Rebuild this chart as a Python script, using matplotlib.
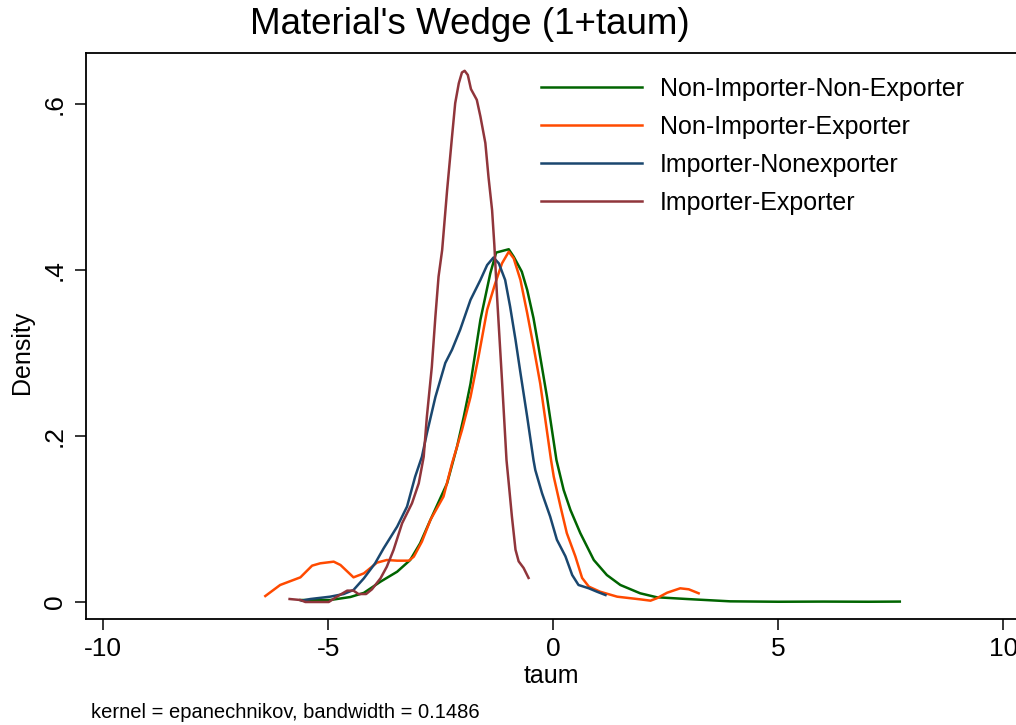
import matplotlib
matplotlib.use("Agg")
import matplotlib.pyplot as plt

# ------------------------------
# DATA
# ------------------------------
nine_x = [-5.62, -4.96, -4.51, -4.21, -3.84, -3.47, -3.18, -2.96, -2.73, -2.36, -2.14,
          -1.99, -1.84, -1.62, -1.51, -1.40, -1.27, -0.99, -0.88, -0.70, -0.58, -0.44,
          -0.33, -0.14, 0.07, 0.23, 0.38, 0.60, 0.90, 1.19, 1.49, 1.93, 2.30, 2.97,
          3.93, 5.0, 6.0, 7.0, 7.7]
nine_y = [0.0024, 0.0024, 0.006, 0.011, 0.0245, 0.0365, 0.0506, 0.0707, 0.099, 0.143, 0.187,
          0.223, 0.263, 0.340, 0.368, 0.396, 0.421, 0.425, 0.416, 0.398, 0.376, 0.342,
          0.308, 0.247, 0.171, 0.135, 0.111, 0.083, 0.0506, 0.0325, 0.0205, 0.0105, 0.0057, 0.0036,
          0.0008, 0.0003, 0.0005, 0.0003, 0.0005]

nie_x = [-6.4, -6.07, -5.62, -5.36, -5.18, -4.88, -4.73, -4.44, -4.21, -3.92, -3.70, -3.47,
         -3.21, -3.10, -2.92, -2.73, -2.44, -2.25, -2.03, -1.84, -1.66, -1.47, -1.29, -1.14,
         -0.99, -0.88, -0.73, -0.58, -0.44, -0.29, -0.05, 0.01, 0.16, 0.30, 0.49, 0.64, 0.79,
         1.04, 1.42, 1.93, 2.16, 2.30, 2.53, 2.82, 3.01, 3.23]
nie_y = [0.0072, 0.0205, 0.0297, 0.0438, 0.0466, 0.0486, 0.0446, 0.0297, 0.0345, 0.0474, 0.0506, 0.0498,
         0.0498, 0.0546, 0.0727, 0.099, 0.127, 0.167, 0.207, 0.247, 0.296, 0.352, 0.384, 0.408,
         0.422, 0.414, 0.388, 0.348, 0.308, 0.263, 0.171, 0.151, 0.115, 0.083, 0.055, 0.029, 0.0185,
         0.0124, 0.0064, 0.0032, 0.0016, 0.0045, 0.0112, 0.0165, 0.0153, 0.0105]

ine_x = [-5.59, -5.40, -4.96, -4.66, -4.44, -4.21, -3.96, -3.77, -3.47, -3.25, -3.07, -2.92,
         -2.81, -2.62, -2.40, -2.25, -2.07, -1.84, -1.62, -1.47, -1.33, -1.21, -1.07, -0.96,
         -0.84, -0.73, -0.58, -0.44, -0.40, -0.25, -0.07, 0.08, 0.27, 0.42, 0.56, 0.79, 0.97, 1.16]
ine_y = [0.0016, 0.0036, 0.0064, 0.0096, 0.0145, 0.0285, 0.0466, 0.0647, 0.0908, 0.115, 0.151, 0.175,
         0.203, 0.247, 0.288, 0.304, 0.328, 0.364, 0.388, 0.406, 0.415, 0.408, 0.388, 0.356,
         0.316, 0.276, 0.223, 0.171, 0.159, 0.131, 0.103, 0.075, 0.055, 0.0325, 0.0205, 0.0165, 0.0124, 0.0084]

ie_x = [-5.86, -5.62, -5.51, -4.99, -4.81, -4.58, -4.44, -4.33, -4.16, -4.03, -3.84, -3.70,
        -3.55, -3.36, -3.14, -2.99, -2.88, -2.81, -2.70, -2.62, -2.55, -2.47, -2.36, -2.25,
        -2.18, -2.10, -2.03, -1.97, -1.90, -1.83, -1.70, -1.62, -1.51, -1.44, -1.36, -1.31,
        -1.25, -1.14, -1.04, -0.99, -0.92, -0.84, -0.77, -0.66, -0.55]
ie_y = [0.0036, 0.0024, 0.0, 0.0, 0.0064, 0.0137, 0.0137, 0.0096, 0.0096, 0.0153, 0.0285, 0.0425,
        0.0627, 0.0948, 0.119, 0.143, 0.175, 0.223, 0.283, 0.344, 0.392, 0.424, 0.496, 0.561,
        0.601, 0.625, 0.638, 0.640, 0.635, 0.618, 0.605, 0.585, 0.553, 0.512, 0.472, 0.43,
        0.368, 0.267, 0.171, 0.143, 0.103, 0.063, 0.049, 0.041, 0.029]

labels = ["Non-Importer-Non-Exporter", "Non-Importer-Exporter",
          "Importer-Nonexporter", "Importer-Exporter"]
colors = ["#006400", "#ff4a00", "#1a476f", "#90353b"]

xticks = [-10, -5, 0, 5, 10]
yticks = [0, 0.2, 0.4, 0.6]
ytick_labels = ["0", ".2", ".4", ".6"]

# ------------------------------
# PLOT
# ------------------------------
plt.rcParams['font.family'] = ['Liberation Sans', 'DejaVu Sans']

W, H = 1016, 725
fig = plt.figure(figsize=(W / 100, H / 100), dpi=100)
ax = fig.add_axes([86 / W, 1 - 619.3 / H, (1017 - 86) / W, (619.3 - 53) / H])

for xs, ys, lab, col in zip([nine_x, nie_x, ine_x, ie_x], [nine_y, nie_y, ine_y, ie_y], labels, colors):
    ax.plot(xs, ys, color=col, lw=1.8, label=lab)

ax.set_xlim((86 - 553.3) / 45, (1017 - 553.3) / 45)
ax.set_ylim((602 - 619.3) / 830, (602 - 53) / 830)

ax.set_xticks(xticks)
ax.set_xticklabels([str(t) for t in xticks], fontsize=19)
ax.set_yticks(yticks)
ax.set_yticklabels(ytick_labels, fontsize=19, rotation=90, va='center')
ax.tick_params(axis='both', length=8, width=1.1, direction='out')
ax.tick_params(axis='x', pad=5)
ax.tick_params(axis='y', pad=6)
ax.spines['right'].set_visible(False)
for s in ['left', 'bottom', 'top']:
    ax.spines[s].set_linewidth(1.3)

ax.legend(loc='upper left', bbox_to_anchor=(541 / W, 1 - 77 / H), bbox_transform=fig.transFigure,
          frameon=False, fontsize=18, handlelength=4.05, handletextpad=0.7,
          labelspacing=0.56, borderpad=0, borderaxespad=0)

fig.text(470 / W, 1 - 34 / H, "Material's Wedge (1+taum)", fontsize=26.5, ha='center', va='baseline')
fig.text(551 / W, 1 - 683 / H, "taum", fontsize=18, ha='center', va='baseline')
fig.text(22 / W, 1 - 352 / H, "Density", fontsize=18, rotation=90, ha='center', va='center')
fig.text(90.7 / W, 1 - 718 / H, "kernel = epanechnikov, bandwidth = 0.1486", fontsize=14.5,
         ha='left', va='baseline')

fig.savefig("out.png", dpi=100)
